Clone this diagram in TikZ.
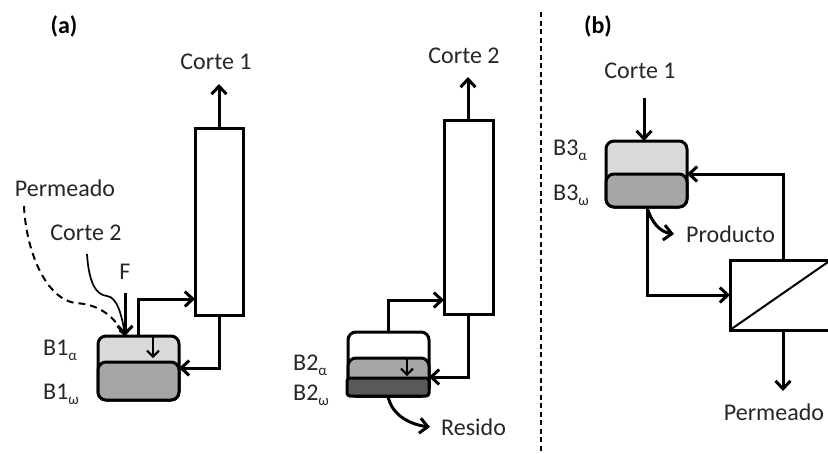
\documentclass[tikz,border=0pt]{standalone}
\usepackage{fontspec}
\setmainfont{Carlito}
\usetikzlibrary{arrows.meta,calc}
\definecolor{txt}{HTML}{262626}
\definecolor{lite}{HTML}{D9D9D9}
\definecolor{midg}{HTML}{A6A6A6}
\definecolor{dark}{HTML}{595959}
\tikzset{
  lbl/.style={font=\fontsize{24}{26}\selectfont,text=txt,inner sep=0pt},
  head/.style={font=\fontsize{24}{26}\selectfont\bfseries,text=black,inner sep=0pt},
  column/.style={draw=black,line width=3pt,fill=white,minimum width=#1,minimum height=0pt,inner sep=0pt,outer sep=0pt},
  vessel/.style={draw=black,line width=3pt,rounded corners=8pt,inner sep=0pt,outer sep=0pt},
  flow/.style={draw=black,line width=3pt,-{Straight Barb[length=8pt,width=15pt,line width=3pt]}},
  thinflow/.style={draw=black,line width=2pt,-{Straight Barb[length=6pt,width=12pt,line width=2pt]}},
}
\newcommand{\boxnode}[6]{% style, name, x0, y0, x1, y1
  \node[#1,minimum width=#5pt-#3pt,minimum height=#6pt-#4pt,anchor=north west] (#2) at (#3,#4) {};}
\newcommand{\lowsub}[1]{\raisebox{-0.45ex}{\fontsize{15}{15}\selectfont #1}}
\begin{document}
\begin{tikzpicture}[x=1pt,y=-1pt]
\useasboundingbox (0,0) rectangle (828,453);
\begin{scope}
\clip (0,0) rectangle (828,453);
% headings
\node[head] (ha) at (64,26) {(a)};
\node[head] (hb) at (598,26) {(b)};
% divider
\coordinate (d1) at (541,12);
\coordinate (d2) at (541,453);
\draw[black,line width=1.5pt,dash pattern=on 5pt off 3.5pt] (d1) -- (d2);
% --- part a, left
\boxnode{column,minimum width=0pt}{c1}{195}{128}{243}{315}
\boxnode{vessel,fill=lite}{b1a}{98}{336}{179}{400}
\boxnode{vessel,fill=midg}{b1w}{98}{362}{179}{400}
\node[lbl] (tc1) at (216,62) {Corte 1};
\node[lbl] (tperm) at (65,188) {Permeado};
\node[lbl] (tc2) at (86,233) {Corte 2};
\node[lbl] (tf) at (125,272) {F};
\node[lbl,anchor=west] (tb1a) at (43,350) {B1\lowsub{α}};
\node[lbl,anchor=west] (tb1w) at (43,394) {B1\lowsub{ω}};
\coordinate (c1top) at (219,128);
\coordinate (c1out) at (219,84);
\coordinate (c1v) at (195,299);
\coordinate (c1b) at (219,315);
\coordinate (b1r) at (179,368);
\coordinate (b1t) at (138,336);
\coordinate (b1f) at (125,336);
\coordinate (fs) at (125,293);
\coordinate (c2s) at (87,254);
\coordinate (ps) at (24,206);
\draw[flow] (c1top) -- (c1out);
\draw[flow] (b1t) |- (c1v);
\draw[flow] (c1b) |- (b1r);
\draw[flow] (fs) -- (b1f);
\draw[thinflow] (153,336) -- (153,358);
\draw[black,line width=1.7pt,-{Straight Barb[length=5pt,width=10pt,line width=1.7pt]}] (c2s) .. controls (89,285) and (97,295) .. (107,296) .. controls (117,297) and (122,315) .. (b1f);
\draw[black,line width=2pt,dash pattern=on 7pt off 5pt] (ps) .. controls (26,250) and (45,298) .. (75,303) .. controls (95,304) and (112,312) .. (b1f);
% --- part a, right
\boxnode{column,minimum width=0pt}{c2}{444}{120}{493}{314}
\boxnode{vessel,fill=white}{b2t}{348}{332}{429}{396}
\boxnode{vessel,fill=midg}{b2a}{348}{358}{429}{396}
\boxnode{vessel,fill=dark,rounded corners=3pt}{b2w}{347}{378}{429}{396}
\node[lbl] (tc2b) at (464,56) {Corte 2};
\node[lbl,anchor=west] (tb2a) at (293,365) {B2\lowsub{α}};
\node[lbl,anchor=west] (tb2w) at (293,395) {B2\lowsub{ω}};
\node[lbl,anchor=west] (tres) at (441,427) {Resido};
\coordinate (c2top) at (468,120);
\coordinate (c2out) at (468,77);
\coordinate (c2v) at (444,300);
\coordinate (c2b) at (468,314);
\coordinate (b2r) at (429,377);
\coordinate (b2t) at (388,332);
\coordinate (b2b) at (388,396);
\coordinate (resend) at (430,427);
\draw[flow] (c2top) -- (c2out);
\draw[flow] (b2t) |- (c2v);
\draw[flow] (c2b) |- (b2r);
\draw[thinflow] (407,358) -- (407,376);
\draw[flow] (b2b) .. controls (391,413) and (407,424) .. (resend);
% --- part b
\boxnode{vessel,fill=lite}{b3a}{606}{141}{687}{207}
\boxnode{vessel,fill=midg}{b3w}{606}{174}{687}{207}
\boxnode{column,minimum width=0pt}{mem}{730}{260}{850}{330}
\node[lbl] (tc1b) at (640,71) {Corte 1};
\node[lbl,anchor=west] (tb3a) at (553,150) {B3\lowsub{α}};
\node[lbl,anchor=west] (tb3w) at (553,195) {B3\lowsub{ω}};
\node[lbl,anchor=west] (tprod) at (686,234) {Producto};
\node[lbl] (tperm2) at (774,412) {Permeado};
\coordinate (fb) at (644,98);
\coordinate (b3t) at (644,141);
\coordinate (b3r) at (687,174);
\coordinate (b3b) at (647,207);
\coordinate (prodend) at (674,234);
\coordinate (memi) at (730,295);
\coordinate (memt) at (783,260);
\coordinate (memb) at (783,330);
\coordinate (permend) at (783,391);
\coordinate (mem1) at (730,330);
\coordinate (mem2) at (828,262);
\draw[flow] (fb) -- (b3t);
\draw[flow] (memt) |- (b3r);
\draw[flow] (b3b) |- (memi);
\draw[flow] (b3b) .. controls (651,222) and (660,232) .. (prodend);
\draw[flow] (memb) -- (permend);
\draw[black,line width=2pt] (mem1) -- (mem2);
\end{scope}
\end{tikzpicture}
\end{document}
